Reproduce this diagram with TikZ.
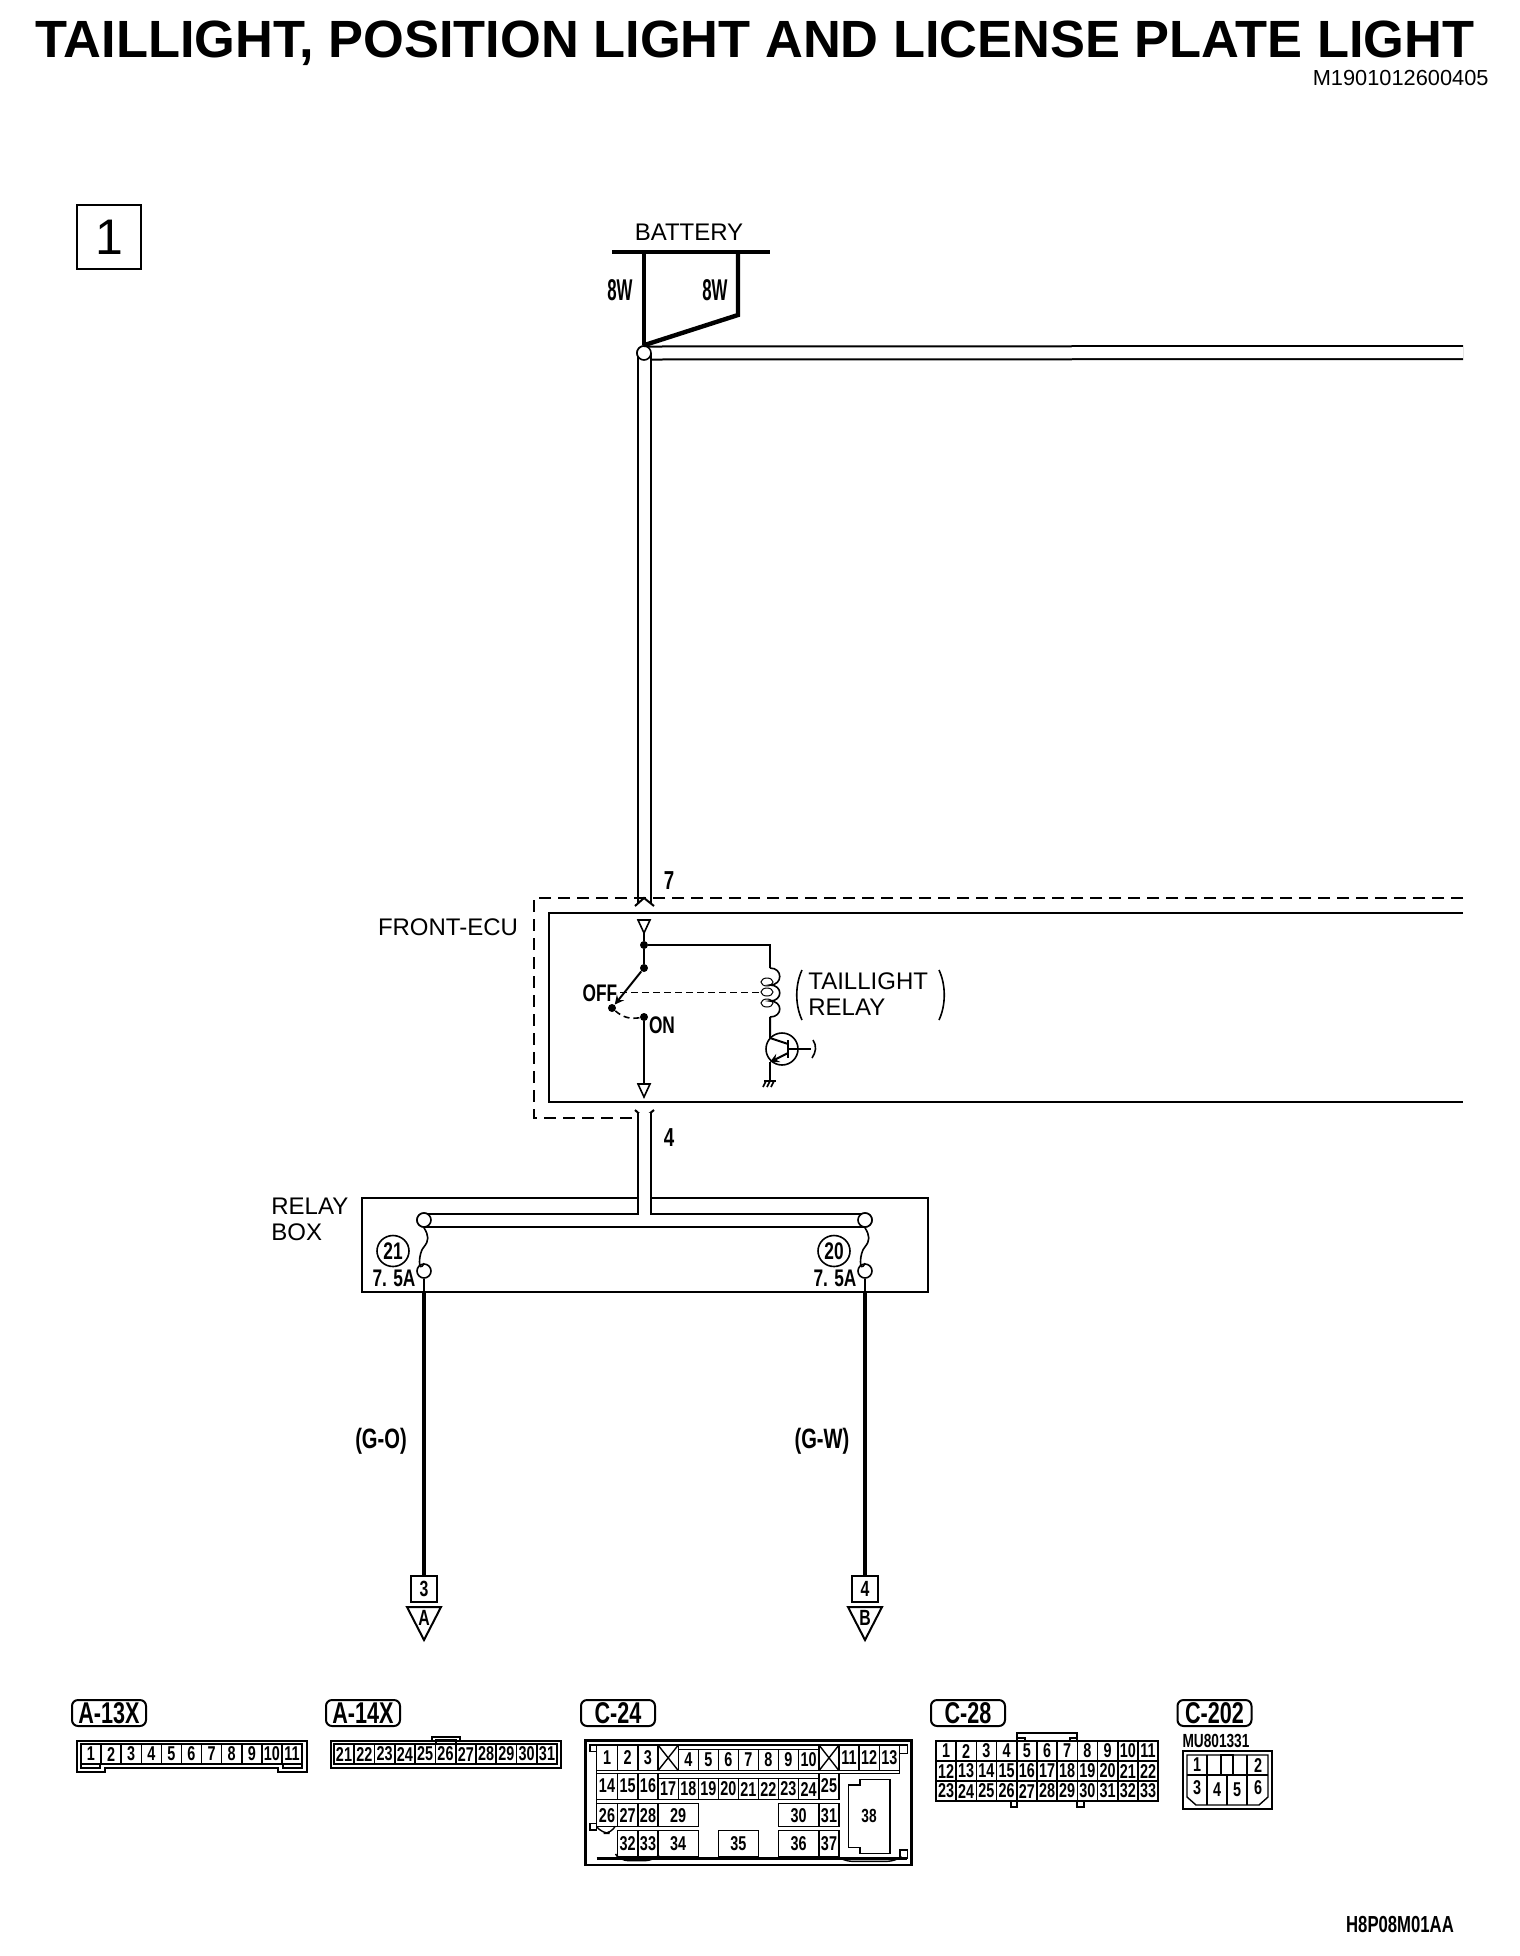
\documentclass[tikz,border=0pt]{standalone}
\usepackage{fontspec}
\setmainfont{Liberation Sans}
\newfontfamily\narrowface[FakeStretch=0.72]{Liberation Sans}
\newfontfamily\tallface[FakeStretch=0.56]{Liberation Sans}
\newcommand{\plainsize}[1]{\fontsize{#1}{13}\selectfont}
\newcommand{\narrowsize}[1]{\narrowface\bfseries\fontsize{#1}{#1}\selectfont}
\newcommand{\tallsize}[1]{\tallface\bfseries\fontsize{#1}{#1}\selectfont}
\usetikzlibrary{positioning, shapes.geometric}
\tikzset{%
  thin wire/.style={line width=1pt},
  fine wire/.style={line width=0.8pt},
  heavy wire/.style={line width=2.2pt},
  double wire/.style={
    double,
    line width=1pt,
    double distance=5.5pt
  },
  contact/.style={
    circle,
    draw,
    fill=white,
    line width=0.8pt,
    inner sep=0pt,
    minimum size=7pt
  },
  dot/.style={
    circle,
    fill=black,
    inner sep=0pt,
    minimum size=4pt
  },
  plain label/.style={inner sep=0pt, font=\plainsize{12}},
  wire label/.style={inner sep=0pt, font=\narrowsize{13}},
  pill/.style={
    draw,
    line width=1pt,
    rounded corners=3pt,
    inner sep=0pt,
    minimum width=37pt,
    minimum height=13pt,
    font=\narrowsize{15}
  },
  cell/.style={
    draw,
    line width=0.7pt,
    inner sep=0pt,
    minimum width=10pt,
    minimum height=10pt,
    font=\narrowsize{10}
  },
  cell text/.style={inner sep=0pt, font=\narrowsize{10}},
  shell/.style={line width=1pt},
  rule/.style={line width=0.7pt}
}
\begin{document}
\begin{tikzpicture}[x=0.5pt, y=-0.5pt, >=stealth]
\useasboundingbox (0,0) rectangle (1520,1956);

\node [inner sep=0pt, font=\bfseries\fontsize{26.2}{27}\selectfont] (title) at (755,43)
  {TAILLIGHT, POSITION LIGHT AND LICENSE PLATE LIGHT};
\node [inner sep=0pt, anchor=east, font=\fontsize{10.9}{11}\selectfont] (code) at (1489,78) {M1901012600405};
\node [draw, thin wire, minimum size=32pt, inner sep=0pt, font=\fontsize{25}{25}\selectfont] (page-no) at (109,237) {1};

\node [plain label] (battery) at (689,232) {BATTERY};
\coordinate (bat-l) at (612,252);
\coordinate (bat-r) at (770,252);
\draw [heavy wire] (bat-l) -- (bat-r);
\node [contact] (bat-j) at (644,353) {};
\coordinate (fuse-a) at (644,252);
\coordinate (fuse-b) at (738,252);
\coordinate (fuse-c) at (738,315);
\coordinate (right-end) at (1463,352.5);
\coordinate (ecu-in) at (644,904);
\coordinate (ecu-out) at (644,1113);
\draw [double wire] (bat-j.center) -- (right-end);
\draw [double wire] (bat-j.center) -- (ecu-in);
\node [contact] (bat-j2) at (bat-j) {};
\draw [heavy wire] (fuse-a) -- (bat-j2.north);
\draw [heavy wire] (fuse-b) -- (fuse-c) -- (bat-j2.north);
\node [wire label, font=\tallsize{15}] (fuse-a-l) at (620,290) {8W};
\node [wire label, font=\tallsize{15}] (fuse-b-l) at (715,290) {8W};
\node [wire label] (pin-7) at (669,881) {7};
\node [wire label] (pin-4) at (669,1138) {4};

\draw [thin wire, dash pattern=on 6pt off 3.5pt] (1463,898) -- (534,898) -- (534,1118) -- (632,1118);
\draw [thin wire] (1463,913) -- (549,913) -- (549,1102) -- (1463,1102);
\node [plain label] (ecu) at (448,927) {FRONT-ECU};
\draw [thin wire] (635,906) -- (644,898) -- (654,906);
\draw [thin wire] (635,1110) -- (644,1118) -- (654,1110);

\draw [fine wire] (638,920) -- (650,920) -- (644,933) -- cycle;
\draw [fine wire] (638,1084) -- (650,1084) -- (644,1097) -- cycle;
\node [dot] (sw-top) at (644,945) {};
\node [dot] (sw-a) at (644,968) {};
\node [dot] (sw-b) at (612,1008) {};
\node [dot] (sw-on) at (644,1017) {};
\coordinate (coil-in) at (770,968);
\coordinate (coil-out) at (770,1017);
\draw [thin wire] (644,933) -- (sw-top) -- (sw-a);
\draw [thin wire] (sw-top) -| (coil-in);
\draw [thin wire, ->] (sw-a) -- (sw-b);
\draw [thin wire] (sw-on) -- (644,1084);
\draw [fine wire, dash pattern=on 3pt off 2pt] (sw-b) to [bend right=25] (sw-on);
\draw [line width=0.5pt, dash pattern=on 3.5pt off 2pt] (620,992) -- (760,992);
\node [wire label, font=\narrowsize{12}] (off) at (600,993) {OFF};
\node [wire label, font=\narrowsize{12}] (on) at (662,1025) {ON};
\draw [fine wire] (coil-in) .. controls (783,968) and (783,985) .. (770,985)
  .. controls (783,985) and (783,1001) .. (770,1001)
  .. controls (783,1001) and (783,1017) .. (coil-out);
\foreach \y in {982,992,1003}
  \draw [line width=0.5pt] (767,\y) ellipse (6 and 4);
\node [plain label, align=left, anchor=west] (relay) at (808,994) {TAILLIGHT\\RELAY};
\draw [fine wire] (802,970) .. controls (795,985) and (795,1005) .. (802,1020);
\draw [fine wire] (939,970) .. controls (946,985) and (946,1005) .. (939,1020);
\node [circle, draw, fine wire, inner sep=0pt, minimum size=16pt] (trans) at (782,1049) {};
\coordinate (ground) at (770,1081);
\draw [thin wire] (coil-out) -- (770,1038) -- (788,1044);
\draw [thin wire, ->] (788,1053) -- (770,1062);
\draw [thin wire] (770,1062) -- (ground);
\draw [thin wire] (788,1040) -- (788,1058);
\draw [fine wire] (788,1049) -- (811,1049);
\draw [fine wire] (813,1040) .. controls (817,1046) and (816,1052) .. (812,1058);
\draw [fine wire] (764,1081) -- (776,1081);
\foreach \x in {766,770,774}
  \draw [fine wire] (\x,1081) -- (\x-3,1087);

\node [draw, thin wire, minimum width=283pt, minimum height=47pt, inner sep=0pt] (relay-box) at (644.5,1245) {};
\node [plain label, align=left, anchor=west] (relay-l) at (271,1219) {RELAY\\BOX};
\node [contact] (fuse-21-a) at (424,1220) {};
\node [contact] (fuse-20-a) at (865,1220) {};
\node [contact] (fuse-21-b) at (424,1271) {};
\node [contact] (fuse-20-b) at (865,1271) {};
\coordinate (tee) at (644,1214.5);
\draw [double wire] (fuse-21-a.center) -- (fuse-20-a.center);
\draw [double wire] (ecu-out) -- (tee);
\node [contact] at (fuse-21-a) {};
\node [contact] at (fuse-20-a) {};
\foreach \m in {21,20} {
  \draw [fine wire] (fuse-\m-a.south) .. controls +(5,8) and +(5,-6) .. +(0,19)
    .. controls +(-6,6) and +(-6,12) .. (fuse-\m-b.north);
}
\node [ellipse, draw, fine wire, inner sep=0pt, minimum width=16pt, minimum height=15.5pt, font=\narrowsize{12}] (mark-21) at (393,1251) {21};
\node [ellipse, draw, fine wire, inner sep=0pt, minimum width=16pt, minimum height=15.5pt, font=\narrowsize{12}] (mark-20) at (834,1251) {20};
\node [wire label, font=\narrowsize{12}] (amp-21) at (394,1278) {7. 5A};
\node [wire label, font=\narrowsize{12}] (amp-20) at (835,1278) {7. 5A};

\node [draw, line width=1pt, minimum size=13pt, inner sep=0pt, font=\narrowsize{11}] (term-3) at (424,1589) {3};
\node [draw, line width=1pt, minimum size=13pt, inner sep=0pt, font=\narrowsize{11}] (term-4) at (865,1589) {4};
\foreach \m/\n in {21/3,20/4} {
  \draw [fine wire] (fuse-\m-b.south) -- (fuse-\m-b |- relay-box.south);
  \draw [heavy wire] (fuse-\m-b |- relay-box.south) -- (term-\n.north);
}
\foreach \x/\l in {424/A,865/B} {
  \draw [thin wire] (\x-17,1607) -- (\x+17,1607) -- (\x,1640) -- cycle;
  \node [wire label, font=\narrowsize{11}] (arrow-\l) at (\x,1618) {\l};
}
\node [wire label, font=\narrowsize{14}] (colour-a) at (381,1441) {(G-O)};
\node [wire label, font=\narrowsize{14}] (colour-b) at (822,1441) {(G-W)};

\node [pill] (a13x) at (109,1713) {A-13X};
\node [pill] (a14x) at (363,1713) {A-14X};
\node [pill] (c24) at (618,1713) {C-24};
\node [pill] (c28) at (968,1713) {C-28};
\node [pill] (c202) at (1214.5,1713) {C-202};

\draw [shell] (77,1741) -- (307,1741) -- (307,1772) -- (278,1772) -- (278,1768)
  -- (105,1768) -- (105,1772) -- (77,1772) -- cycle;
\foreach \n [count=\i from 0] in {1,...,11}
  \node [cell] (a13-\n) at (91+\i*20.1,1754) {\n};
\draw [rule] (81,1764) rectangle (100,1768);
\draw [rule] (283,1764) rectangle (302,1768);

\draw [shell] (331,1741) rectangle (561,1768);
\draw [rule] (432,1741) -- (432,1737) -- (460,1737) -- (460,1741);
\foreach \n [count=\i from 0] in {21,...,31}
  \node [cell] (a14-\n) at (344+\i*20.3,1754) {\n};
\draw [rule] (436,1744) -- (436,1740) -- (456,1740) -- (456,1744);

\begin{scope}[shift={(570,1690)}, scale=1/3]
  \draw [line width=1.2pt] (47,152) rectangle (1025,525);
  \draw [line width=1.4pt] (80,505) -- (1012,505);
  \draw [rule] (80,165) -- (80,420);
  \draw [rule] (325,165) -- (747,165);
  \draw [rule] (264,250) -- (807,250);
  \draw [rule] (807,250) -- (988,250) -- (988,165);
  \foreach \xa/\ya/\xb/\yb in {60/165/80/185, 60/400/80/420, 988/165/1012/190, 990/480/1012/505}
    \draw [rule] (\xa,\ya) rectangle (\xb,\yb);
  \foreach \xa/\xb in {264/325, 747/807} {
    \draw [rule] (\xa,165) rectangle (\xb,242);
    \draw [rule] (\xa,165) -- (\xb,242);
    \draw [rule] (\xa,242) -- (\xb,165);
  }
  \foreach \n/\xa/\xb in {1/80/142, 2/142/204, 3/204/264, 11/807/867, 12/867/928, 13/928/988} {
    \draw [rule] (\xa,165) rectangle (\xb,242);
    \node [cell text] (c24-\n) at ({(\xa+\xb)/2},203) {\n};
  }
  \foreach \n/\xa/\xb in {4/325/385, 5/385/445, 6/445/505, 7/505/565, 8/565/625, 9/625/685, 10/685/747} {
    \draw [rule] (\xa,178) rectangle (\xb,242);
    \node [cell text] (c24-\n) at ({(\xa+\xb)/2},210) {\n};
  }
  \foreach \n/\xa/\xb in {14/80/142, 15/142/204, 16/204/264, 25/747/807} {
    \draw [rule] (\xa,250) rectangle (\xb,328);
    \node [cell text] (c24-\n) at ({(\xa+\xb)/2},288) {\n};
  }
  \foreach \n/\xa/\xb in {17/264/325, 18/325/385, 19/385/445, 20/445/505, 21/505/565, 22/565/625, 23/625/685, 24/685/747} {
    \draw [rule] (\xa,265) rectangle (\xb,328);
    \node [cell text] (c24-\n) at ({(\xa+\xb)/2},297) {\n};
  }
  \foreach \n/\xa/\xb in {26/80/142, 27/142/204, 28/204/264, 29/264/385, 30/625/747, 31/747/807} {
    \draw [rule] (\xa,340) rectangle (\xb,410);
    \node [cell text] (c24-\n) at ({(\xa+\xb)/2},376) {\n};
  }
  \foreach \n/\xa/\xb in {32/142/204, 33/204/264, 34/264/385, 35/445/565, 36/625/747, 37/747/807} {
    \draw [rule] (\xa,422) rectangle (\xb,500);
    \node [cell text] (c24-\n) at ({(\xa+\xb)/2},461) {\n};
  }
  \draw [rule] (870,268) -- (960,268) -- (960,490) -- (870,490) -- (870,472) -- (835,472) -- (835,285) -- (870,285) -- cycle;
  \node [cell text, font=\narrowsize{9.5}] (c24-38) at (897,378) {38};
  \draw [rule, rounded corners=4pt] (80,410) -- (95,430) -- (125,430) -- (135,410);
  \draw [rule, rounded corners=4pt] (142,500) -- (150,512) -- (250,512) -- (262,500);
  \draw [rule, rounded corners=4pt] (810,505) -- (822,514) -- (975,514) -- (988,505);
\end{scope}

\foreach \n [evaluate=\n as \i using {int(mod(\n-1,11))}, evaluate=\n as \j using {int((\n-1)/11)}] in {1,...,33}
  \node [cell] (c28-\n) at (946+\i*20.2,1751+\j*20) {\n};
\draw [line width=1.2pt] (1017,1741) -- (1017,1733) -- (1077,1733) -- (1077,1741);
\draw [rule] (1017,1738) -- (1025,1738) -- (1025,1741);
\draw [rule] (1077,1738) -- (1070,1738) -- (1070,1741);
\draw [rule] (1011,1801) -- (1011,1807) -- (1017,1807) -- (1017,1801);
\draw [rule] (1077,1801) -- (1077,1807) -- (1084,1807) -- (1084,1801);

\node [inner sep=0pt, font=\narrowsize{9.5}] (part-no) at (1216,1741) {MU801331};
\draw [shell] (1183,1751) rectangle (1272,1809);
\draw [rule] (1187,1755) -- (1268,1755) -- (1268,1797) -- (1259,1805) -- (1196,1805) -- (1187,1797) -- cycle;
\draw [rule] (1187,1775) -- (1207,1775) -- (1207,1755);
\draw [rule] (1268,1775) -- (1247,1775) -- (1247,1755);
\draw [rule] (1221,1775) -- (1221,1755) -- (1233,1755) -- (1233,1775);
\draw [rule] (1207,1775) -- (1247,1775);
\draw [rule] (1207,1775) -- (1207,1805);
\draw [rule] (1227,1775) -- (1227,1805);
\draw [rule] (1247,1775) -- (1247,1805);
\foreach \n/\x/\y in {1/1197/1765, 2/1258/1765, 3/1197/1788, 4/1217/1790, 5/1237/1790, 6/1258/1788}
  \node [cell text] (c202-\n) at (\x,\y) {\n};

\node [wire label, font=\narrowsize{11.6}] (drawing-no) at (1400,1924) {H8P08M01AA};
\end{tikzpicture}
\end{document}
